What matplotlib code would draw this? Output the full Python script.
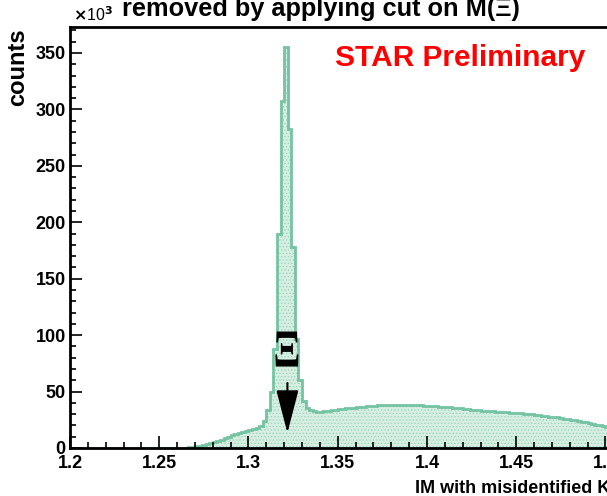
import numpy as np
import matplotlib
matplotlib.use('Agg')
import matplotlib.pyplot as plt
from matplotlib.textpath import TextPath
from matplotlib.patches import PathPatch
from matplotlib.font_manager import FontProperties
from matplotlib.transforms import Affine2D, ScaledTranslation

# histogram: bins of 0.002 starting at 1.200, counts in units of 10^3
bin_start = 1.200
bin_width = 0.002
counts = [0.0] * 30 + [
    0.0, 0.0, 0.3, 0.6, 1.0, 1.4, 2.0, 2.7, 3.5, 4.3,          # 1.260 - 1.278
    5.2, 6.2, 7.3, 8.5, 9.8, 11.2, 12.3, 13.3, 14.3, 15.3,     # 1.280 - 1.298
    16.2, 17.0, 18.0, 19.5, 23.5, 34.0, 50.0, 88.0, 190.0, 307.0,  # 1.300 - 1.318
    355.0, 283.0, 178.0, 97.0, 60.0, 42.0, 35.5, 33.5, 32.5, 32.0,  # 1.320 - 1.338
    32.3, 32.6, 33.0, 33.4, 33.8, 34.3, 34.7, 35.1, 35.5, 35.8,    # 1.340 - 1.358
    36.1, 36.4, 36.7, 37.0, 37.3, 37.6, 37.8, 38.0, 38.1, 38.2,    # 1.360 - 1.378
    38.2, 38.2, 38.2, 38.1, 38.1, 38.0, 37.9, 37.8, 37.7, 37.5,    # 1.380 - 1.398
    37.3, 37.1, 36.9, 36.6, 36.4, 36.2, 36.0, 35.7, 35.4, 35.1,    # 1.400 - 1.418
    34.8, 34.5, 34.1, 33.8, 33.5, 33.2, 32.9, 32.6, 32.4, 32.2,    # 1.420 - 1.438
    32.0, 31.8, 31.6, 31.4, 31.1, 30.9, 30.6, 30.3, 30.0, 29.7,    # 1.440 - 1.458
    29.4, 29.0, 28.7, 28.3, 27.9, 27.5, 27.1, 26.6, 26.1, 25.6,    # 1.460 - 1.478
    25.1, 24.6, 24.0, 23.4, 22.8, 22.2, 21.5, 20.8, 20.1, 19.4,    # 1.480 - 1.498
    18.7, 18.0, 17.3, 16.6, 15.9,                                  # 1.500 - 1.508
]
xticks = [1.2, 1.25, 1.3, 1.35, 1.4, 1.45, 1.5, 1.55]
xticklabels = ['1.2', '1.25', '1.3', '1.35', '1.4', '1.45', '1.5', '1.55']
yticks = [0, 50, 100, 150, 200, 250, 300, 350]
xi_mass = 1.3218
xi_label_y = 87.7
arrow_from = 57.6
arrow_to = 13.3

plt.rcParams['font.family'] = ['Liberation Sans', 'DejaVu Sans']
plt.rcParams['font.weight'] = 'bold'
plt.rcParams['hatch.linewidth'] = 0.6

W, H = 607, 496
fig = plt.figure(figsize=(W / 100, H / 100), dpi=100)
# frame: left at 70 px, bottom at 448 px, top at 27 px; right side runs off the canvas
ax = fig.add_axes([70 / W, (H - 448) / H, 714 / W, 421 / H])

edges = bin_start + bin_width * np.arange(len(counts) + 1)
ax.stairs(counts, edges, fill=True, facecolor='#d6efe2', edgecolor='#9fd4bc',
          hatch='.....', linewidth=0)
ax.stairs(counts, edges, fill=False, edgecolor='#74c3a2', linewidth=2)

ax.set_xlim(1.2, 1.6)
ax.set_ylim(0, 373)
ax.set_xticks(xticks)
ax.set_xticklabels(xticklabels)
ax.set_xticks(np.arange(1.2, 1.6, 0.01), minor=True)
ax.set_yticks(yticks)
ax.set_yticklabels([str(v) for v in yticks])
ax.set_yticks(np.arange(0, 373, 10), minor=True)
ax.tick_params(which='both', direction='in', top=False, right=False,
               labelsize=13, width=1.2, color='black')
ax.tick_params(which='major', length=8.5)
ax.tick_params(which='minor', length=4.3)
ax.tick_params(axis='y', pad=3)
ax.tick_params(axis='x', pad=5)
for s in ax.spines.values():
    s.set_linewidth(2)

# Xi label: serif bold glyph stretched to about 23 x 35 px
tp = TextPath((0, 0), '\u039e', size=40,
              prop=FontProperties(family='Liberation Serif', weight='bold'))
bb = tp.get_extents()
glyph_tr = (Affine2D()
            .translate(-(bb.x0 + bb.x1) / 2, -(bb.y0 + bb.y1) / 2)
            .scale(23 / bb.width, 35 / bb.height)
            + ScaledTranslation(xi_mass - 0.0003, xi_label_y, ax.transData))
ax.add_patch(PathPatch(tp, facecolor='black', edgecolor='none',
                       transform=glyph_tr, clip_on=False))

ax.annotate('', xy=(xi_mass, arrow_to), xytext=(xi_mass, arrow_from),
            arrowprops=dict(arrowstyle='-|>,head_length=2.7,head_width=0.7',
                            mutation_scale=10, lw=1.5, color='black',
                            shrinkA=0, shrinkB=0))

fig.text(335 / W, 1 - 66 / H, 'STAR Preliminary', color='#ff0000',
         fontsize=21.5, fontweight='bold', ha='left', va='baseline')
fig.text(321 / W, 1 - 16 / H, 'removed by applying cut on M(\u039e)',
         fontsize=18.3, fontweight='bold', ha='center', va='baseline')
fig.text(73 / W, 1 - 21 / H, r'$\times$10$^{3}$', fontsize=11.5,
         fontweight='normal', ha='left', va='baseline')
fig.text(18 / W, 1 - 28 / H, 'counts', fontsize=17, fontweight='bold',
         rotation=90, ha='center', va='top')
fig.text(610 / W, 1 - 493 / H, 'IM with misidentified K', fontsize=13,
         fontweight='bold', ha='right', va='baseline')

fig.savefig('out.png', dpi=100)
